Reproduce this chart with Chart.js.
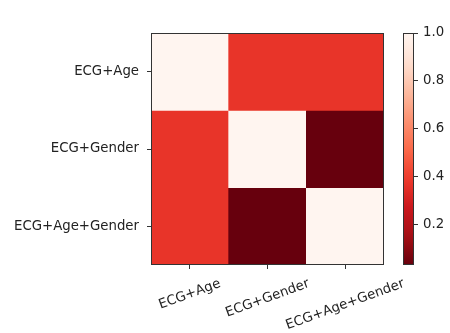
<!DOCTYPE html>
<html>
<head>
<meta charset="utf-8">
<script src="https://cdn.jsdelivr.net/npm/chart.js@4.4.1/dist/chart.umd.min.js"></script>
<style>
  body { margin: 0; background: #fff; }
  #wrap { position: relative; width: 450px; height: 333px; }
  #heat { position: absolute; left: 0; top: 0; }
  #cbar { position: absolute; left: 380px; top: 0; }
</style>
</head>
<body>
<div id="wrap">
  <canvas id="heat" width="450" height="333"></canvas>
  <canvas id="cbar" width="70" height="333"></canvas>
</div>
<script>
// Data
const colLabels = ["ECG+Age", "ECG+Gender", "ECG+Age+Gender"];
const rowLabels = ["ECG+Age", "ECG+Gender", "ECG+Age+Gender"];
const row1 = [1.0, 0.37, 0.37];
const row2 = [0.37, 1.0, 0.03];
const row3 = [0.37, 0.03, 1.0];
const matrix = [row1, row2, row3];
const cbTicks = [0.2, 0.4, 0.6, 0.8, 1.0];
const vmin = 0.03;
const vmax = 1.0;

const FONT = { family: "DejaVu Sans", size: 13.3 };
const TEXT = "#222";
const LINE = "#333";

// Reds colormap (matplotlib / colorbrewer), used reversed
const reds = ["#fff5f0", "#fee0d2", "#fcbba1", "#fc9272", "#fb6a4a", "#ef3b2c", "#cb181d", "#a50f15", "#67000d"];
function hexRgb(h) {
  return [parseInt(h.substr(1, 2), 16), parseInt(h.substr(3, 2), 16), parseInt(h.substr(5, 2), 16)];
}
function redsR(v) {
  let t = (v - vmin) / (vmax - vmin);
  t = Math.min(1, Math.max(0, t));
  const s = (1 - t) * (reds.length - 1);
  const i = Math.min(reds.length - 2, Math.floor(s));
  const f = s - i;
  const a = hexRgb(reds[i]), b = hexRgb(reds[i + 1]);
  const c = a.map((x, k) => Math.round(x + (b[k] - x) * f));
  return "rgb(" + c.join(",") + ")";
}

// frame around the plot area
const framePlugin = {
  id: "frame",
  afterDraw(chart) {
    const { ctx, chartArea: a } = chart;
    ctx.save();
    ctx.strokeStyle = LINE;
    ctx.lineWidth = 1;
    ctx.strokeRect(Math.round(a.left) + 0.5, Math.round(a.top) + 0.5, Math.round(a.right - a.left) - 1, Math.round(a.bottom - a.top) - 1);
    ctx.restore();
  }
};

// rotated x labels, centred under each tick (like matplotlib rotation=20)
const xLabelPlugin = {
  id: "xlabels",
  afterDraw(chart) {
    const { ctx } = chart;
    const xs = chart.scales.x;
    const ang = 20 * Math.PI / 180;
    const top = chart.chartArea.bottom + 12;
    ctx.save();
    ctx.font = FONT.size + "px " + FONT.family;
    ctx.fillStyle = TEXT;
    ctx.textAlign = "center";
    ctx.textBaseline = "middle";
    colLabels.forEach((lab, i) => {
      const w = ctx.measureText(lab).width;
      const h = w * Math.sin(ang) + FONT.size * Math.cos(ang);
      const x = xs.getPixelForValue(i);
      ctx.save();
      ctx.translate(x, top + h / 2);
      ctx.rotate(-ang);
      ctx.fillText(lab, 0, 0);
      ctx.restore();
    });
    ctx.restore();
  }
};

const heatDatasets = matrix.map((row, i) => ({
  label: rowLabels[i],
  data: row.map(() => 1),
  backgroundColor: row.map(v => redsR(v)),
  borderWidth: 0,
  barPercentage: 1,
  categoryPercentage: 1
}));

new Chart(document.getElementById("heat"), {
  type: "bar",
  data: { labels: colLabels, datasets: heatDatasets },
  options: {
    responsive: false,
    animation: false,
    events: [],
    layout: { padding: { top: 33, right: 66, left: 0, bottom: 0 } },
    plugins: { legend: { display: false }, tooltip: { enabled: false } },
    scales: {
      x: {
        stacked: true,
        ticks: { display: false },
        grid: { offset: false, drawOnChartArea: false, tickLength: 4, color: LINE },
        border: { display: false },
        afterFit(scale) { scale.height = 68; }
      },
      y: {
        stacked: true,
        min: 0,
        max: 3,
        reverse: true,
        afterBuildTicks(scale) {
          scale.ticks = rowLabels.map((_, i) => ({ value: i + 0.5 }));
        },
        ticks: {
          font: FONT,
          color: TEXT,
          padding: 8,
          callback: (v, i) => rowLabels[i]
        },
        grid: { drawOnChartArea: false, tickLength: 4, color: LINE },
        border: { display: false },
        afterFit(scale) { scale.width = 151; }
      }
    }
  },
  plugins: [framePlugin, xLabelPlugin]
});

// Colorbar
new Chart(document.getElementById("cbar"), {
  type: "bar",
  data: {
    labels: [""],
    datasets: [{
      data: [[vmin, vmax]],
      backgroundColor(c) {
        const a = c.chart.chartArea;
        if (!a) return "#fff";
        const g = c.chart.ctx.createLinearGradient(0, a.bottom, 0, a.top);
        for (let k = 0; k <= 20; k++) {
          g.addColorStop(k / 20, redsR(vmin + (vmax - vmin) * k / 20));
        }
        return g;
      },
      borderWidth: 0,
      barPercentage: 1,
      categoryPercentage: 1
    }]
  },
  options: {
    responsive: false,
    animation: false,
    events: [],
    layout: { padding: { top: 33, right: 0, left: 23, bottom: 68 } },
    plugins: { legend: { display: false }, tooltip: { enabled: false } },
    scales: {
      x: { display: false },
      y: {
        position: "right",
        min: vmin,
        max: vmax,
        afterBuildTicks(scale) {
          scale.ticks = cbTicks.map(v => ({ value: v }));
        },
        ticks: {
          font: FONT,
          color: TEXT,
          padding: 5,
          callback: v => v.toFixed(1)
        },
        grid: { drawOnChartArea: false, tickLength: 4, color: LINE },
        border: { display: false },
        afterFit(scale) { scale.width = 36; }
      }
    }
  },
  plugins: [framePlugin]
});
</script>
</body>
</html>
